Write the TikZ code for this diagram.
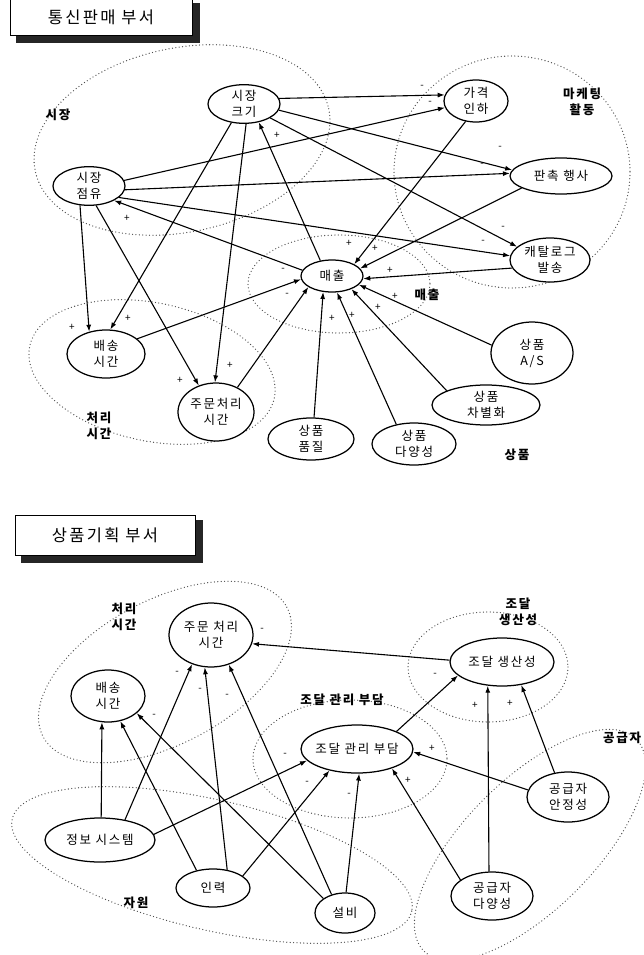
\documentclass[tikz,border=0pt]{standalone}
\usepackage{fontspec}
\setmainfont{Noto Sans CJK KR}
\newfontfamily\spacedkr[LetterSpace=14]{Noto Sans CJK KR}
\usetikzlibrary{shapes.geometric,arrows.meta}

\begin{document}
\begin{tikzpicture}[x=1pt,y=-1pt,
  var/.style={ellipse, draw, line width=1.25pt, fill=white, inner sep=0pt, align=center,
              font=\spacedkr\fontsize{12.5}{16}\selectfont},
  link/.style={line width=1.1pt, -{Latex[length=7pt,width=5pt]}},
  grp/.style={line width=1.3pt, black!70, dash pattern=on 0pt off 3.4pt, line cap=round},
  glabel/.style={font=\spacedkr\bfseries\fontsize{12.5}{16}\selectfont, align=center, inner sep=1pt},
  sgn/.style={font=\fontsize{10}{10}\selectfont, inner sep=0pt},
  titlebox/.style={draw, line width=1pt, fill=white, font=\spacedkr\fontsize{16.5}{18}\selectfont},
  shade/.style={fill=black!85}
]
\useasboundingbox (0,0) rectangle (643,955);

% ---------------- upper diagram: mail-order department ----------------
\node[titlebox, minimum width=182, minimum height=37] (t1) at (101,17) {통신판매 부서};
\fill[shade] ([xshift=0pt,yshift=-5pt]t1.north east) rectangle ([xshift=7pt,yshift=-7pt]t1.south east);
\fill[shade] ([xshift=6pt]t1.south west) rectangle ([xshift=7pt,yshift=-7pt]t1.south east);

% dotted groupings
\begin{scope}[rotate around={12:(182,140)}]
  \draw[grp] (182,140) ellipse [x radius=150, y radius=92];
\end{scope}
\draw[grp] (512,172) ellipse [x radius=118, y radius=116];
\draw[grp] (339,284) ellipse [x radius=91, y radius=49];
\begin{scope}[rotate around={-12:(152,372)}]
  \draw[grp] (152,372) ellipse [x radius=125, y radius=69];
\end{scope}

% variables
\node[var, minimum width=72,  minimum height=38] (size)    at (244,104) {시장\\크기};
\node[var, minimum width=72,  minimum height=38] (share)   at (89,186)  {시장\\점유};
\node[var, minimum width=64,  minimum height=42] (price)   at (476,101) {가격\\인하};
\node[var, minimum width=102, minimum height=36] (promo)   at (561,176) {판촉 행사};
\node[var, minimum width=80,  minimum height=44, inner xsep=-4pt] (catalog) at (550,260) {캐탈로그\\발송};
\node[var, minimum width=62,  minimum height=32] (sales)   at (332,276) {매출};
\node[var, minimum width=78,  minimum height=48] (ship)    at (106,354) {배송\\시간};
\node[var, minimum width=76,  minimum height=58, inner xsep=-4pt] (order)   at (216,412) {주문처리\\시간};
\node[var, minimum width=86,  minimum height=42] (quality) at (311,439) {상품\\품질};
\node[var, minimum width=84,  minimum height=42] (variety) at (414,444) {상품\\다양성};
\node[var, minimum width=108, minimum height=40] (diff)    at (486,405) {상품\\차별화};
\node[var, minimum width=82,  minimum height=62] (as)      at (532,353) {상품\\A/S};

% group labels
\node[glabel] at (58,115)  {시장};
\node[glabel] at (582,102) {마케팅\\활동};
\node[glabel] at (427,295) {매출};
\node[glabel] at (99,426)  {처리\\시간};
\node[glabel] at (517,455) {상품};

% causal links
\draw[link] (size.9)     -- (price.169);
\draw[link] (size.-10)   -- (promo.173);
\draw[link] (size.-28)   -- (catalog.158);
\draw[link] (size.236)   -- (ship.80);
\draw[link] (size.-84)   -- (order.92);
\draw[link] (sales.127)  -- (size.-51);
\draw[link] (share.9)    -- (price.192);
\draw[link] (share.-6)   -- (promo.177);
\draw[link] (share.-21)  -- (catalog.174);
\draw[link] (share.-115) -- (ship.127);
\draw[link] (share.-70)  -- (order.123);
\draw[link] (sales.169)  -- (share.-30);
\draw[link] (price.-117) -- (sales.28);
\draw[link] (promo.197)  -- (sales.15);
\draw[link] (catalog.192) -- (sales.-5);
\draw[link] (as.169)     -- (sales.-18);
\draw[link] (diff.160)   -- (sales.-34);
\draw[link] (variety.132) -- (sales.-73);
\draw[link] (quality.82) -- (sales.-119);
\draw[link] (order.49)   -- (sales.205);
\draw[link] (ship.26)    -- (sales.186);

% link polarities
\node[sgn] at (277,135) {+};
\node[sgn] at (127,218) {+};
\node[sgn] at (72,327)  {+};
\node[sgn] at (128,318) {+};
\node[sgn] at (180,380) {+};
\node[sgn] at (230,365) {+};
\node[sgn] at (422,87)  {-};
\node[sgn] at (430,103) {-};
\node[sgn] at (500,148) {-};
\node[sgn] at (482,165) {-};
\node[sgn] at (503,228) {-};
\node[sgn] at (483,242) {-};
\node[sgn] at (349,243) {+};
\node[sgn] at (375,248) {+};
\node[sgn] at (390,270) {+};
\node[sgn] at (395,296) {+};
\node[sgn] at (378,307) {+};
\node[sgn] at (352,315) {+};
\node[sgn] at (332,318) {+};
\node[sgn] at (283,270) {-};
\node[sgn] at (287,295) {-};

% ---------------- lower diagram: merchandising department ----------------
\node[titlebox, minimum width=180, minimum height=40] (t2) at (105,535) {상품기획 부서};
\fill[shade] ([yshift=-5pt]t2.north east) rectangle ([xshift=7pt,yshift=-7pt]t2.south east);
\fill[shade] ([xshift=6pt]t2.south west) rectangle ([xshift=7pt,yshift=-7pt]t2.south east);

% dotted groupings
\begin{scope}[rotate around={28:(165,672)}]
  \draw[grp] (165,672) ellipse [x radius=138, y radius=72];
\end{scope}
\draw[grp] (488,667) ellipse [x radius=80, y radius=55];
\draw[grp] (350,759) ellipse [x radius=97, y radius=59];
\begin{scope}[rotate around={45:(530,845)}]
  \draw[grp] (530,845) ellipse [x radius=150, y radius=65];
\end{scope}
\begin{scope}[rotate around={-13:(212,865)}]
  \draw[grp] (212,865) ellipse [x radius=205, y radius=65];
\end{scope}

% variables
\node[var, minimum width=84,  minimum height=64, inner xsep=-4pt] (order2)  at (211,635) {주문 처리\\시간};
\node[var, minimum width=74,  minimum height=52] (ship2)   at (108,696) {배송\\시간};
\node[var, minimum width=104, minimum height=48, inner xsep=-4pt] (prod)    at (502,662) {조달 생산성};
\node[var, minimum width=112, minimum height=48, inner xsep=-8pt] (burden)  at (357,749) {조달 관리 부담};
\node[var, minimum width=82,  minimum height=50] (stab)    at (568,797) {공급자\\안정성};
\node[var, minimum width=82,  minimum height=48] (divers)  at (492,896) {공급자\\다양성};
\node[var, minimum width=110, minimum height=44, inner xsep=-4pt] (info)    at (100,840) {정보 시스템};
\node[var, minimum width=74,  minimum height=38] (staff)   at (213,888) {인력};
\node[var, minimum width=60,  minimum height=40] (equip)   at (345,913) {설비};

% group labels
\node[glabel] at (124,617) {처리\\시간};
\node[glabel] at (518,612) {조달\\생산성};
\node[glabel] at (342,700) {조달 관리 부담};
\node[glabel] at (622,738) {공급자};
\node[glabel] at (136,903) {자원};

% causal links
\draw[link] (prod.178)   -- (order2.-12);
\draw[link] (burden.24)  -- (prod.197);
\draw[link] (divers.97)  -- (prod.-121);
\draw[link] (stab.119)   -- (prod.-50);
\draw[link] (stab.170)   -- (burden.-3);
\draw[link] (divers.153) -- (burden.-29);
\draw[link] (equip.87)   -- (burden.-85);
\draw[link] (staff.22)   -- (burden.218);
\draw[link] (info.6)     -- (burden.193);
\draw[link] (info.87)    -- (ship2.-103);
\draw[link] (info.39)    -- (order2.-123);
\draw[link] (staff.133)  -- (ship2.-64);
\draw[link] (staff.52)   -- (order2.-101);
\draw[link] (equip.146)  -- (ship2.-31);
\draw[link] (equip.126)  -- (order2.-59);

% link polarities
\node[sgn] at (435,675) {-};
\node[sgn] at (475,705) {+};
\node[sgn] at (510,703) {+};
\node[sgn] at (432,748) {+};
\node[sgn] at (408,780) {+};
\node[sgn] at (349,795) {-};
\node[sgn] at (307,783) {-};
\node[sgn] at (285,755) {-};
\node[sgn] at (262,630) {-};
\node[sgn] at (177,673) {-};
\node[sgn] at (200,690) {-};
\node[sgn] at (227,696) {-};
\node[sgn] at (154,716) {-};
\end{tikzpicture}
\end{document}
